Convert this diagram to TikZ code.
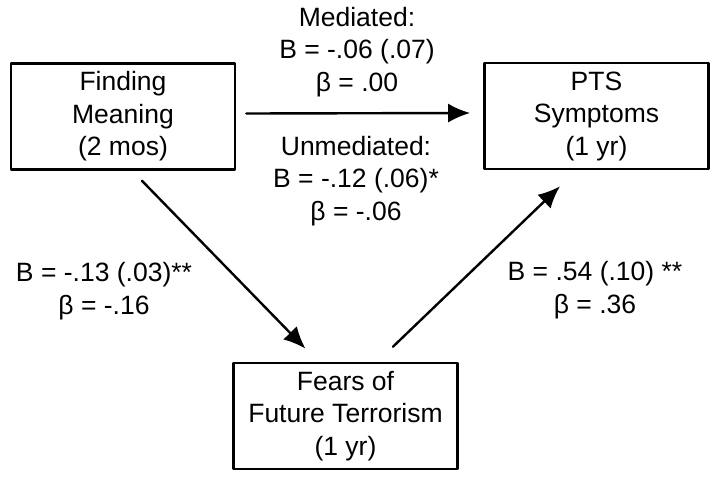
\documentclass[tikz,border=0pt]{standalone}
\usepackage{fontspec}
\setmainfont{Liberation Sans}
\usetikzlibrary{arrows.meta}
\usetikzlibrary{positioning}

\begin{document}
\begin{tikzpicture}[line cap=round,line join=round, x=1pt,y=-1pt,
  every node/.style={font=\fontsize{26.5}{32.5}\selectfont, align=center},
  varbox/.style={draw, line width=2.6pt, line cap=butt, minimum width=224pt, minimum height=106pt, inner sep=0pt},
  path/.style={line width=2.4pt, -{Latex[length=22pt, width=19pt]}}]
\useasboundingbox (0,0) rectangle (710,477);
% variables
\node [varbox] (meaning) at (123,116.5) {Finding\\Meaning\\(2 mos)};
\node [varbox] (pts) at (596.5,116) {PTS\\Symptoms\\(1 yr)};
\node [varbox] (fears) at (345.5,416) {Fears of\\Future Terrorism\\(1 yr)};
% paths
\draw [path] ([yshift=3pt]meaning.east) ++(10,0) -- ([xshift=-13pt,yshift=3pt]pts.west);
\draw [path] ([xshift=19pt,yshift=-10pt]meaning.south) -- ([xshift=-40pt,yshift=13pt]fears.north);
\draw [path] ([xshift=47.5pt,yshift=15pt]fears.north) -- ([xshift=-36.5pt,yshift=-16pt]pts.south);
% coefficients
\node (mediated) at (357,52) {Mediated:\\B = -.06 (.07)\\β = .00};
\node (unmediated) at (356,181) {Unmediated:\\B = -.12 (.06)*\\β = -.06};
\node (apath) at (104,291) {B = -.13 (.03)**\\β = -.16};
\node (bpath) at (595,290) {B = .54 (.10) **\\β = .36};
\end{tikzpicture}
\end{document}
